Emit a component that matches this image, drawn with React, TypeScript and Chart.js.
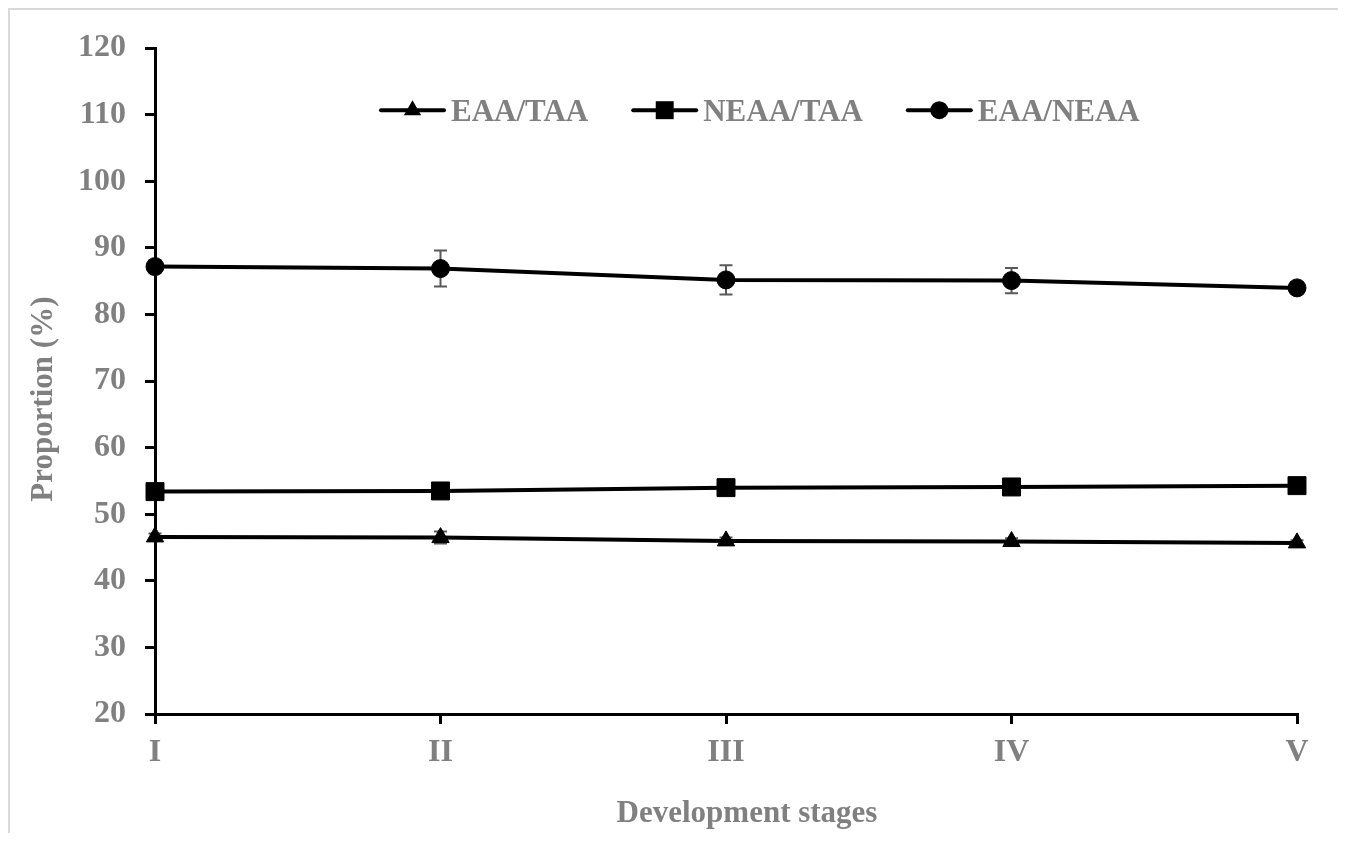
import React, { useEffect, useRef } from "react";
import { Chart, registerables } from "chart.js";

Chart.register(...registerables);

const stages = ["I", "II", "III", "IV", "V"];
const seriesNames = ["EAA/TAA", "NEAA/TAA", "EAA/NEAA"];
const eaaTaa = [46.6, 46.5, 46.0, 45.9, 45.7];
const neaaTaa = [53.4, 53.5, 54.0, 54.1, 54.3];
const eaaNeaa = [87.2, 86.9, 85.2, 85.1, 84.0];
const eaaTaaErr = [0.5, 0.9, 0.5, 0.5, 0.4];
const neaaTaaErr = [0.5, 0.9, 0.5, 0.5, 0.4];
const eaaNeaaErr = [1.0, 2.7, 2.2, 1.9, 0.9];
const yMin = 20;
const yMax = 120;
const yStep = 10;
const xTitle = "Development stages";
const yTitle = "Proportion (%)";

const GRAY = "#808080";
const FONT = "'Liberation Serif', 'Times New Roman', serif";

function drawMarker(ctx: CanvasRenderingContext2D, style: string, x: number, y: number, r: number) {
  ctx.beginPath();
  if (style === "circle") {
    ctx.arc(x, y, r, 0, Math.PI * 2);
  } else if (style === "rect") {
    const s = r * Math.SQRT1_2;
    ctx.rect(x - s, y - s, 2 * s, 2 * s);
  } else {
    ctx.moveTo(x, y - r);
    ctx.lineTo(x + 0.866 * r, y + 0.5 * r);
    ctx.lineTo(x - 0.866 * r, y + 0.5 * r);
    ctx.closePath();
  }
  ctx.fillStyle = "#000";
  ctx.fill();
}

const errorBarPlugin = {
  id: "errorBars",
  beforeDatasetsDraw(chart: any) {
    const { ctx } = chart;
    const yScale = chart.scales.y;
    ctx.save();
    ctx.strokeStyle = "#595959";
    ctx.lineWidth = 2;
    chart.data.datasets.forEach((ds: any, i: number) => {
      const meta = chart.getDatasetMeta(i);
      meta.data.forEach((pt: any, j: number) => {
        const v = ds.data[j];
        const e = ds.errors[j];
        const yt = yScale.getPixelForValue(v + e);
        const yb = yScale.getPixelForValue(v - e);
        const px = pt.x;
        ctx.beginPath();
        ctx.moveTo(px, yt);
        ctx.lineTo(px, yb);
        ctx.moveTo(px - 6.5, yt);
        ctx.lineTo(px + 6.5, yt);
        ctx.moveTo(px - 6.5, yb);
        ctx.lineTo(px + 6.5, yb);
        ctx.stroke();
      });
    });
    ctx.restore();
  },
};

const legendTitlesPlugin = {
  id: "legendTitles",
  afterDraw(chart: any) {
    const { ctx, chartArea } = chart;
    ctx.save();
    ctx.font = `bold 31px ${FONT}`;
    let x = chartArea.left + 226;
    const yMid = chartArea.top + 62;
    const yBase = chartArea.top + 73;
    chart.data.datasets.forEach((ds: any) => {
      ctx.strokeStyle = "#000";
      ctx.lineWidth = 4;
      ctx.lineCap = "round";
      ctx.beginPath();
      ctx.moveTo(x, yMid);
      ctx.lineTo(x + 63, yMid);
      ctx.stroke();
      drawMarker(ctx, ds.pointStyle, x + 31.5, yMid, ds.pointRadius);
      ctx.fillStyle = GRAY;
      ctx.textBaseline = "alphabetic";
      ctx.textAlign = "left";
      ctx.fillText(ds.label, x + 70, yBase);
      x += 70 + ctx.measureText(ds.label).width + 45;
    });

    // x-axis title
    ctx.fillStyle = GRAY;
    ctx.textAlign = "center";
    ctx.textBaseline = "alphabetic";
    ctx.fillText(xTitle, (chartArea.left + chartArea.right) / 2 + 21, chartArea.bottom + 108);

    // y-axis title
    ctx.save();
    ctx.translate(chartArea.left - 103, (chartArea.top + chartArea.bottom) / 2 + 18);
    ctx.rotate(-Math.PI / 2);
    ctx.textAlign = "center";
    ctx.textBaseline = "alphabetic";
    ctx.fillText(yTitle, 0, 0);
    ctx.restore();

    ctx.restore();
  },
};

export default function App() {
  const ref = useRef<HTMLCanvasElement | null>(null);

  useEffect(() => {
    if (!ref.current) return;
    const common = {
      borderColor: "#000",
      backgroundColor: "#000",
      pointBackgroundColor: "#000",
      pointBorderColor: "#000",
      pointBorderWidth: 1,
      borderWidth: 4,
      borderCapStyle: "round",
      borderJoinStyle: "round",
      tension: 0,
      clip: false as any,
    };
    const chart = new Chart(ref.current, {
      type: "line",
      data: {
        labels: stages,
        datasets: [
          { ...common, label: seriesNames[0], data: eaaTaa, errors: eaaTaaErr, pointStyle: "triangle", pointRadius: 10 } as any,
          { ...common, label: seriesNames[1], data: neaaTaa, errors: neaaTaaErr, pointStyle: "rect", pointRadius: 12.7 } as any,
          { ...common, label: seriesNames[2], data: eaaNeaa, errors: eaaNeaaErr, pointStyle: "circle", pointRadius: 9 } as any,
        ],
      },
      options: {
        responsive: false,
        maintainAspectRatio: false,
        devicePixelRatio: 1,
        animation: false,
        layout: { padding: { left: 0, top: 34, right: 45, bottom: 0 } },
        plugins: {
          legend: { display: false },
          tooltip: { enabled: false },
          title: { display: false },
        },
        scales: {
          x: {
            type: "category",
            offset: false,
            grid: {
              display: true,
              drawOnChartArea: false,
              drawTicks: true,
              tickLength: 10,
              tickWidth: 3,
              tickColor: "#000",
              color: "#000",
              lineWidth: 3,
              offset: false,
            },
            border: { display: true, color: "#000", width: 3 },
            ticks: {
              color: GRAY,
              padding: 10,
              maxRotation: 0,
              font: { family: FONT, size: 32, weight: "bold" },
            },
            afterFit: (scale: any) => {
              scale.height = 119;
            },
          },
          y: {
            min: yMin,
            max: yMax,
            grid: {
              display: true,
              drawOnChartArea: false,
              drawTicks: true,
              tickLength: 10,
              tickWidth: 3,
              tickColor: "#000",
              color: "#000",
              lineWidth: 3,
            },
            border: { display: true, color: "#000", width: 3 },
            ticks: {
              stepSize: yStep,
              color: GRAY,
              padding: 19,
              font: { family: FONT, size: 32, weight: "bold" },
            },
            afterFit: (scale: any) => {
              scale.width = 145;
            },
          },
        },
      } as any,
      plugins: [errorBarPlugin, legendTitlesPlugin],
    });
    return () => chart.destroy();
  }, []);

  return (
    <div
      style={{
        width: 1336,
        height: 825,
        boxSizing: "border-box",
        borderTop: "2px solid #d9d9d9",
        borderLeft: "2px solid #d9d9d9",
        borderRight: "2px solid #d9d9d9",
        background: "#fff",
      }}
    >
      <canvas ref={ref} width={1332} height={823} style={{ display: "block", width: 1332, height: 823 }} />
    </div>
  );
}
